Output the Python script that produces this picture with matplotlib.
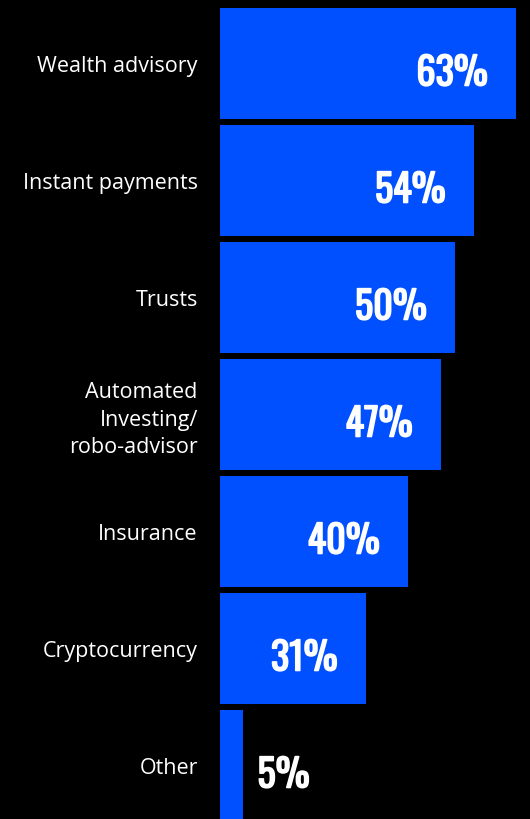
import matplotlib
matplotlib.use("Agg")
import matplotlib.pyplot as plt
import matplotlib.patheffects as pe
from matplotlib import font_manager

categories = ["Wealth advisory", "Instant payments", "Trusts",
              "Automated\nInvesting/\nrobo-advisor", "Insurance",
              "Cryptocurrency", "Other"]
shares = [63, 54, 50, 47, 40, 31, 5]

BLUE = "#0050ff"

# pick a narrow face for the big percentage figures if one is around
fonts = font_manager.fontManager.ttflist
names = {f.name for f in fonts}
value_font, value_stretch = "DejaVu Sans", "normal"
for cand in ["Oswald", "Bebas Neue", "Roboto Condensed", "Liberation Sans Narrow",
             "DejaVu Sans Condensed"]:
    if cand in names:
        value_font = cand
        break
else:
    if any(f.name == "DejaVu Sans" and f.stretch == "condensed" for f in fonts):
        value_stretch = "condensed"

fig = plt.figure(figsize=(5.3, 8.19), dpi=100, facecolor="black")
ax = fig.add_axes([220 / 530, 0, 310 / 530, 1])
ax.set_facecolor("black")

ypos = list(range(len(categories)))
ax.barh(ypos, shares, height=0.95, color=BLUE)

ax.set_xlim(0, 66)
ax.set_ylim(6.457, -0.543)

ax.set_yticks(ypos)
ax.set_yticklabels(categories, color="white", fontsize=15.5,
                   family=["Open Sans", "DejaVu Sans"], linespacing=1.38)
for lbl in ax.get_yticklabels():
    lbl.set_multialignment("right")
ax.tick_params(axis="y", length=0, pad=16)
ax.set_xticks([])
for sp in ax.spines.values():
    sp.set_visible(False)

heavy = [pe.withStroke(linewidth=1.1, foreground="white")]
for y, v in zip(ypos, shares):
    if v < 10:
        xy_off, ha = (14, -22), "left"
    else:
        xy_off, ha = (-28, -22), "right"
    ax.annotate(f"{v}%", (v, y), xytext=xy_off, textcoords="offset pixels",
                ha=ha, va="baseline", color="white", fontsize=27.5,
                fontweight="bold", fontstretch=value_stretch,
                family=[value_font, "DejaVu Sans"],
                path_effects=heavy, annotation_clip=False)

fig.savefig("out.png", facecolor="black")
